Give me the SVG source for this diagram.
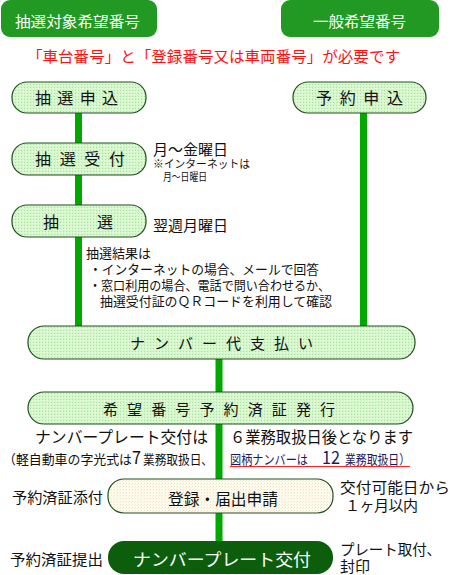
<svg xmlns="http://www.w3.org/2000/svg" width="456" height="575" viewBox="0 0 456 575">
<defs>
<pattern id="pg" width="3" height="3" patternUnits="userSpaceOnUse">
<rect width="3" height="3" fill="#d6f7cc"/>
<rect x="0" y="0" width="1" height="1" fill="#a8e29c"/>
<rect x="2" y="1" width="1" height="1" fill="#eefde8"/>
</pattern>
<pattern id="pc" width="3" height="3" patternUnits="userSpaceOnUse">
<rect width="3" height="3" fill="#fffbeb"/>
<rect x="0" y="0" width="1" height="1" fill="#f3dede"/>
<rect x="2" y="1" width="1" height="1" fill="#eef2d8"/>
</pattern>
</defs>
<style>
text{font-family:"Noto Sans CJK JP","Noto Sans CJK SC",sans-serif;fill:#111}
.top{fill:#229922}
.lbox{fill:url(#pg);stroke:#1f4f1f;stroke-width:1.2}
.cbox{fill:url(#pc);stroke:#1f4f1f;stroke-width:1.2}
.dbox{fill:#0c5e0c}
.ln{stroke:#00a800;stroke-width:7;fill:none}
.w{fill:#fff}
.bt{font-size:16px}
.m{font-size:15px}
.s{font-size:13px}
.xs{font-size:11px}
.nv{fill:#1a1a5a}
</style>
<g id="connectors">
<line class="ln" x1="78.5" y1="112" x2="78.5" y2="327"/>
<line class="ln" x1="363.5" y1="112" x2="363.5" y2="327"/>
<line class="ln" x1="219" y1="358" x2="219" y2="542"/>
</g>
<g id="n-lottery-target">
<rect class="top" x="1" y="0" width="156" height="37" rx="9"/>
<text class="w m" x="15" y="27" textLength="125" lengthAdjust="spacingAndGlyphs">抽選対象希望番号</text>
</g>
<g id="n-general">
<rect class="top" x="281" y="0" width="158" height="37" rx="9"/>
<text class="w m" x="313" y="27" textLength="93" lengthAdjust="spacingAndGlyphs">一般希望番号</text>
</g>
<g id="note-red">
<text class="m" x="27" y="62" style="fill:#ff1111" textLength="373" lengthAdjust="spacingAndGlyphs">「車台番号」と「登録番号又は車両番号」が必要です</text>
</g>
<g id="n-apply-lottery">
<rect class="lbox" x="12" y="82" width="134" height="31" rx="15"/>
<text class="bt" x="35" y="104" textLength="83" lengthAdjust="spacing">抽選申込</text>
</g>
<g id="n-apply-reserve">
<rect class="lbox" x="293" y="82" width="133" height="31" rx="15"/>
<text class="bt" x="316" y="104" textLength="87" lengthAdjust="spacing">予約申込</text>
</g>
<g id="n-lottery-accept">
<rect class="lbox" x="12" y="143" width="134" height="32" rx="15"/>
<text class="bt" x="35" y="165" textLength="90" lengthAdjust="spacing">抽選受付</text>
<text class="m" x="153" y="155" textLength="75" lengthAdjust="spacingAndGlyphs">月～金曜日</text>
<text class="xs" x="153" y="168" textLength="97" lengthAdjust="spacingAndGlyphs">※インターネットは</text>
<text class="xs" x="163" y="181" textLength="44" lengthAdjust="spacingAndGlyphs">月～日曜日</text>
</g>
<g id="n-lottery">
<rect class="lbox" x="12" y="205" width="134" height="32" rx="15"/>
<text class="bt" x="43" y="228" textLength="70" lengthAdjust="spacing">抽選</text>
<text class="m" x="153" y="231" textLength="75" lengthAdjust="spacingAndGlyphs">翌週月曜日</text>
</g>
<g id="note-result">
<text class="s" x="86" y="258">抽選結果は</text>
<text class="s" x="89" y="274" textLength="230" lengthAdjust="spacingAndGlyphs">・インターネットの場合、メールで回答</text>
<text class="s" x="89" y="290" textLength="241" lengthAdjust="spacingAndGlyphs">・窓口利用の場合、電話で問い合わせるか、</text>
<text class="s" x="100" y="306" textLength="232" lengthAdjust="spacingAndGlyphs">抽選受付証のＱＲコードを利用して確認</text>
</g>
<g id="n-pay">
<rect class="lbox" x="28" y="326" width="387" height="33" rx="16"/>
<text class="m" x="130" y="349" textLength="183" lengthAdjust="spacing">ナンバー代支払い</text>
</g>
<g id="n-issue">
<rect class="lbox" x="28" y="392" width="385" height="32" rx="16"/>
<text class="m" x="103" y="415" textLength="232" lengthAdjust="spacing">希望番号予約済証発行</text>
</g>
<g id="note-days">
<text class="bt" x="35" y="443" textLength="173" lengthAdjust="spacingAndGlyphs">ナンバープレート交付は</text>
<text class="bt" x="230" y="443" textLength="183" lengthAdjust="spacingAndGlyphs">６業務取扱日後となります</text>
<text class="s" x="3" y="464" textLength="129" lengthAdjust="spacingAndGlyphs">（軽自動車の字光式は</text>
<text class="s" x="132" y="464" style="font-size:18px" textLength="9" lengthAdjust="spacingAndGlyphs">7</text>
<text class="s" x="143" y="464" textLength="70" lengthAdjust="spacingAndGlyphs">業務取扱日、</text>
<text class="s nv" x="230" y="464" textLength="78" lengthAdjust="spacingAndGlyphs">図柄ナンバーは</text>
<text class="nv" x="322" y="464" style="font-size:18px" textLength="18" lengthAdjust="spacingAndGlyphs">12</text>
<text class="s nv" x="345" y="464" textLength="65" lengthAdjust="spacingAndGlyphs">業務取扱日）</text>
<line x1="230" y1="466.5" x2="410" y2="466.5" stroke="#ff2222" stroke-width="1"/>
</g>
<g id="n-register">
<rect class="cbox" x="108" y="479" width="225" height="34" rx="16"/>
<text class="bt" x="168" y="505" textLength="110" lengthAdjust="spacingAndGlyphs">登録・届出申請</text>
<text class="m" x="12" y="503" textLength="91" lengthAdjust="spacingAndGlyphs">予約済証添付</text>
<text class="m" x="340" y="493" textLength="110" lengthAdjust="spacingAndGlyphs">交付可能日から</text>
<text class="m" x="345" y="511" textLength="73" lengthAdjust="spacing">１ヶ月以内</text>
</g>
<g id="n-plate">
<rect class="dbox" x="108" y="541" width="225" height="33" rx="16"/>
<text class="w" style="font-size:17px" x="133" y="566" textLength="178" lengthAdjust="spacingAndGlyphs">ナンバープレート交付</text>
<text class="m" x="10" y="565" textLength="93" lengthAdjust="spacingAndGlyphs">予約済証提出</text>
<text class="m" x="340" y="555" textLength="101" lengthAdjust="spacingAndGlyphs">プレート取付、</text>
<text class="m" x="340" y="572">封印</text>
</g>
</svg>
